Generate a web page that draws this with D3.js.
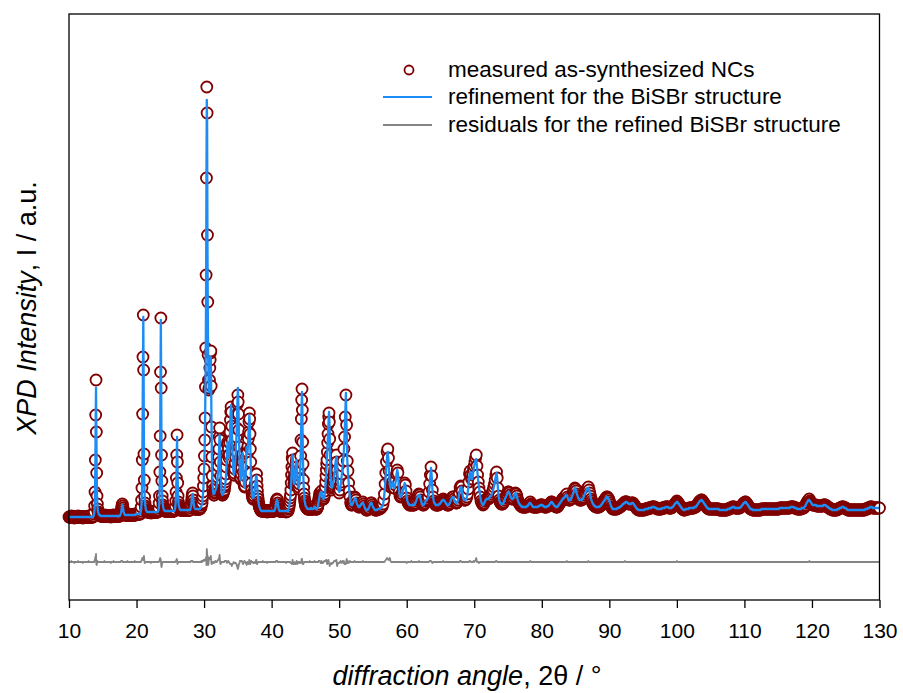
<!DOCTYPE html>
<html>
<head>
<meta charset="utf-8">
<script src="https://cdn.jsdelivr.net/npm/d3@7"></script>
<style>
  body { margin: 0; background: #fff; }
  text { font-family: "Liberation Sans", Arial, sans-serif; fill: #000; }
</style>
</head>
<body>
<svg id="chart" width="903" height="693"></svg>
<script>
// Low-angle part of the scan: 10.00°–49.95°, step 0.05° (one row per 2.5°)
const fineStart = 10;
const fineStep = 0.05;

const measuredFine = [
  83,83,83,83,83,83,83,84,83,83, 83,83,83,83,83,83,82,83,83,83, 83,83,83,83,83,83,83,84,83,83, 83,83,83,83,83,83,83,83,83,83, 83,82,83,83,83,83,83,83,83,83,
  83,83,83,83,83,83,83,83,84,83, 83,83,83,83,83,83,83,83,83,83, 83,83,84,84,86,88,94,108,140,185, 220,168,127,104,96,91,88,87,86,85, 85,85,85,84,84,84,84,84,84,84,
  84,84,84,84,84,85,84,84,84,84, 84,84,84,84,84,84,84,84,84,84, 84,84,84,84,83,84,84,84,84,84, 84,84,85,84,84,84,84,84,84,84, 84,84,84,84,84,84,84,84,84,84,
  84,84,85,86,88,90,92,94,96,94, 92,90,88,87,86,85,85,85,85,85, 85,85,85,86,85,85,85,85,85,85, 85,85,85,85,85,85,85,85,85,85, 85,85,85,85,85,86,85,85,86,86,
  86,86,86,86,86,86,86,86,86,86, 86,86,87,89,93,100,112,140,186,243, 285,230,146,120,103,97,94,92,90,89, 89,88,88,88,88,88,88,88,88,88, 88,88,88,87,88,88,88,88,88,88,
  88,88,88,88,88,88,88,88,88,88, 88,88,88,88,89,90,92,97,104,128, 164,228,282,212,145,119,104,99,95,93, 91,90,90,89,89,89,89,89,89,89, 89,89,89,89,89,89,89,89,89,89,
  89,89,89,89,89,89,89,89,89,89, 89,89,89,90,91,94,99,108,122,145, 165,138,117,104,98,95,93,92,91,90, 90,90,90,90,90,90,90,90,90,90, 90,90,90,90,90,90,90,90,90,90,
  90,90,90,90,90,90,90,90,90,90, 92,94,96,99,102,105,107,104,100,97, 95,93,92,91,91,91,91,91,91,91, 91,91,91,91,91,91,91,91,91,92, 92,93,95,96,97,101,104,108,114,122,
  131,144,160,182,213,252,325,422,513,487, 365,298,245,220,210,212,220,232,240,247, 249,214,173,143,124,114,110,107,106,105, 105,107,108,110,111,111,112,114,116,120, 123,128,134,143,151,163,172,160,138,124,
  115,110,108,106,105,105,106,107,108,109, 110,113,115,118,121,126,133,140,147,155, 158,156,151,145,142,145,157,168,180,188, 193,188,174,160,148,138,131,127,125,125, 127,131,137,143,149,155,163,172,186,196,
  205,198,186,170,153,140,131,125,121,122, 126,132,139,144,146,138,128,121,116,114, 113,114,118,124,134,143,150,148,146,148, 154,161,168,178,187,181,166,151,138,127, 117,110,106,104,102,101,101,102,104,107,
  110,113,116,121,126,126,120,114,109,104, 101,98,96,94,93,92,91,90,90,89, 89,89,89,89,90,89,89,89,89,89, 89,89,89,89,89,89,89,88,89,89, 89,89,89,89,89,89,89,89,89,89,
  89,89,89,89,89,89,89,89,89,90, 91,92,94,97,99,100,101,100,97,95, 93,91,90,89,89,89,89,89,89,89, 89,89,89,89,89,89,89,89,89,89, 89,89,89,88,89,89,89,89,89,89,
  91,92,94,96,99,102,105,110,117,125, 133,142,147,140,130,122,116,115,117,119, 122,127,133,138,141,133,123,118,115,113, 111,113,116,120,124,132,144,160,181,200, 211,190,158,136,120,112,106,102,99,97,
  95,94,93,93,92,92,91,91,91,91, 91,91,91,92,91,91,92,92,91,91, 91,91,91,91,92,92,93,94,92,92, 91,91,91,91,91,92,93,94,96,99, 101,103,105,107,107,105,104,106,109,106,
  104,102,101,101,101,102,104,106,109,113, 118,124,130,136,140,148,157,166,176,183, 187,178,161,145,130,120,115,111,110,112, 113,114,116,119,121,125,128,131,135,138, 141,144,145,138,130,123,117,112,109,108
];

const refinedFine = [
  83,83,83,83,83,83,83,83,83,83, 83,83,83,83,83,83,83,83,83,83, 83,83,83,83,83,83,83,83,83,83, 83,83,83,83,83,83,83,83,83,83, 83,83,83,83,83,83,83,83,83,83,
  83,83,83,83,83,83,83,83,83,83, 83,83,83,83,83,83,83,83,83,83, 83,83,84,84,86,88,92,105,135,180, 212,170,130,105,95,91,88,87,86,85, 85,85,85,84,84,84,84,84,84,84,
  84,84,84,84,84,84,84,84,84,84, 84,84,84,84,84,84,84,84,84,84, 84,84,84,84,84,84,84,84,84,84, 84,84,84,84,84,84,84,84,84,84, 84,84,84,84,84,84,84,84,84,84,
  84,84,85,86,87,89,91,93,95,94, 92,90,88,87,86,85,85,85,85,85, 85,85,85,85,85,85,85,85,85,85, 85,85,85,85,85,85,85,85,85,85, 85,85,85,85,85,85,85,85,86,86,
  86,86,86,86,86,86,86,86,86,86, 86,86,87,89,92,98,110,136,182,240, 283,226,140,118,104,98,94,92,90,89, 89,88,88,88,88,88,88,88,88,88, 88,88,88,88,88,88,88,88,88,88,
  88,88,88,88,88,88,88,88,88,88, 88,88,88,88,89,90,92,96,103,125, 160,225,280,215,150,122,105,99,95,93, 91,90,90,89,89,89,89,89,89,89, 89,89,89,89,89,89,89,89,89,89,
  89,89,89,89,89,89,89,89,89,89, 89,89,89,90,91,94,98,107,120,142, 163,140,118,105,98,95,93,92,91,90, 90,90,90,90,90,90,90,90,90,90, 90,90,90,90,90,90,90,90,90,90,
  90,90,90,90,90,90,90,90,90,90, 92,93,95,98,101,104,106,104,100,97, 95,93,92,91,91,91,91,91,91,91, 91,91,91,91,91,91,91,91,91,92, 92,93,94,95,97,100,103,107,112,120,
  130,142,158,180,210,250,320,425,500,478, 360,292,248,222,208,208,216,228,237,243, 243,212,175,145,125,115,110,107,106,106, 106,107,108,109,110,111,112,114,116,119, 122,126,132,140,148,158,165,158,140,126,
  116,111,108,106,105,105,106,107,108,109, 110,112,114,117,120,125,132,140,148,155, 158,155,150,145,142,146,158,170,182,190, 195,190,178,163,150,140,132,128,125,126, 128,132,138,144,150,157,165,176,190,202,
  212,204,190,172,155,141,130,124,120,121, 125,131,138,144,147,140,130,122,116,113, 112,114,118,125,135,145,153,150,146,149, 155,162,170,178,185,180,168,153,138,126, 116,110,106,104,102,102,102,103,105,107,
  110,113,117,121,124,124,122,116,110,105, 101,98,96,94,93,92,91,90,90,89, 89,89,89,89,89,89,89,89,89,89, 89,89,89,89,89,89,89,89,89,89, 89,89,89,89,89,89,89,89,89,89,
  89,89,89,89,89,89,89,89,89,90, 91,92,94,96,98,99,100,99,97,95, 93,91,90,89,89,89,89,89,89,89, 89,89,89,89,89,89,89,89,89,89, 89,89,89,89,89,89,89,89,89,89,
  91,92,94,96,99,102,106,111,118,126, 135,142,145,140,132,124,118,116,117,120, 124,129,135,139,140,134,125,119,115,113, 112,113,116,120,125,133,145,160,180,197, 208,190,160,138,122,113,106,102,99,97,
  95,94,93,93,92,92,91,91,91,91, 91,91,91,91,91,91,92,92,91,91, 91,91,91,91,92,92,93,93,92,92, 91,91,91,91,91,92,93,94,96,98, 100,102,104,106,107,106,105,106,108,107,
  105,103,102,101,101,102,103,105,108,112, 117,122,128,135,142,150,158,166,174,182, 188,180,165,148,132,122,116,113,112,113, 114,115,117,119,121,124,127,130,134,137, 140,142,143,140,134,126,118,113,110,109
];

// High-angle part of the scan: 50.0°–130.0°, step 0.1° (one row per 5°)
const coarseStart = 50;
const coarseStep = 0.1;

const measuredCoarse = [
  107,110,115,118,126,134,139,151,163,183, 205,175,139,129,117,109,103,97,95,95, 96,98,100,103,102,100,97,95,94,93, 93,94,95,96,97,98,96,94,92,91, 90,90,90,91,92,94,96,97,97,95,
  93,92,91,90,90,90,90,91,91,91, 91,92,92,93,94,96,100,106,116,127, 138,148,151,142,129,120,113,113,115,118, 115,112,112,115,120,126,130,127,117,108, 104,103,104,106,108,111,114,117,115,109,
  102,99,97,96,95,95,95,96,95,95, 95,95,96,97,99,101,103,104,106,105, 103,100,97,96,95,95,96,97,99,100, 101,101,103,108,116,125,133,124,110,103, 99,97,96,95,95,95,95,95,96,96,
  97,98,99,100,101,100,99,98,97,96, 95,95,95,96,97,99,101,102,103,103, 101,99,98,97,97,98,100,103,107,112, 114,113,109,104,101,100,100,100,101,103, 106,111,118,126,129,125,121,121,125,131,
  134,138,142,145,134,125,118,112,108,103, 99,97,96,95,96,97,99,100,101,101, 101,101,102,103,104,104,106,108,110,113, 116,120,125,128,122,112,104,100,98,97, 96,96,96,97,98,100,102,103,105,106,
  108,108,107,105,103,102,101,101,102,104, 106,107,106,104,101,99,97,96,95,94, 94,93,93,93,93,93,93,93,94,94, 95,96,97,98,96,95,94,93,93,93, 93,93,93,93,93,94,94,94,95,95,
  95,95,94,94,93,93,93,93,94,94, 94,95,96,97,98,98,97,96,95,94, 94,93,93,93,94,95,96,97,98,99, 100,101,102,102,103,104,105,106,103,101, 100,100,100,101,102,104,106,108,110,112,
  111,109,106,104,102,101,100,100,100,100, 101,102,103,105,107,108,110,111,112,113, 110,107,104,101,99,97,96,95,94,94, 93,93,93,93,93,93,94,94,95,96, 97,98,99,100,101,102,103,103,102,101,
  99,97,95,93,92,91,91,91,91,91, 91,91,92,92,92,93,93,94,94,95, 96,96,97,98,98,98,98,97,97,96, 96,96,96,97,97,97,96,95,94,93, 92,91,91,90,90,90,90,90,90,90,
  90,90,90,91,91,91,91,91,92,92, 92,92,92,93,93,93,93,93,92,92, 92,91,91,91,91,91,91,91,92,92, 92,92,92,93,93,93,93,93,92,92, 92,92,92,93,93,94,95,96,97,97,
  99,98,97,96,95,94,93,92,91,91, 90,90,90,91,91,91,91,91,92,92, 92,92,92,92,92,92,93,93,93,94, 95,96,97,98,99,99,100,100,99,98, 97,96,95,94,93,92,92,91,91,91,
  91,91,91,91,91,91,91,91,91,91, 91,91,91,90,90,90,90,90,90,90, 90,90,90,90,90,91,91,91,91,92, 92,92,93,93,93,93,92,92,92,92, 92,92,92,92,93,93,94,95,96,97,
  97,98,98,97,96,95,94,93,92,91, 91,91,90,90,90,90,90,90,90,90, 90,90,90,90,90,91,91,91,91,91, 91,91,91,91,91,91,91,91,91,91, 91,91,91,91,91,91,91,91,91,91,
  91,91,92,92,92,92,92,92,92,92, 92,92,92,92,92,92,92,92,93,93, 93,93,93,93,92,92,92,92,91,91, 91,91,91,91,91,92,92,92,92,93, 94,95,97,98,99,100,101,99,98,97,
  96,95,95,95,95,95,95,94,94,94, 94,94,94,94,94,94,94,95,95,95, 95,94,94,93,93,92,92,91,91,91, 90,90,90,90,90,90,90,90,91,91, 91,92,92,92,93,93,93,93,92,92,
  92,91,91,90,90,90,90,90,90,90, 90,90,90,90,90,90,90,90,90,90, 90,90,90,90,90,90,90,90,90,91, 91,91,91,92,92,92,93,93,93,93, 92,92,92,92,92,92,92,92,92,92,
  92
];

const refinedCoarse = [
  108,110,114,119,126,133,140,150,165,185, 207,172,140,128,118,109,102,97,95,95, 96,98,100,102,102,100,97,95,94,93, 93,94,95,96,97,97,96,94,92,91, 90,90,90,91,92,94,96,97,97,95,
  93,92,91,90,90,90,90,91,91,91, 91,92,92,93,94,96,100,106,115,125, 135,144,148,140,126,116,112,113,115,118, 115,112,112,115,120,126,130,127,117,108, 104,103,104,106,108,111,114,117,115,109,
  103,99,97,96,95,95,95,95,95,95, 95,95,96,97,99,101,103,104,105,105, 103,100,97,96,95,95,96,97,99,100, 101,101,103,108,115,124,132,124,111,103, 99,97,96,95,95,95,95,95,96,96,
  97,98,99,100,100,100,99,98,97,96, 95,95,95,96,97,99,101,102,103,103, 101,99,98,97,97,98,100,103,107,111, 113,113,109,104,101,100,100,100,101,103, 106,111,118,125,128,125,121,121,125,130,
  134,137,140,141,134,125,118,113,108,103, 99,97,96,95,96,97,99,100,101,101, 101,101,102,103,104,104,106,108,110,113, 116,120,124,127,122,112,104,100,98,97, 96,96,96,97,98,100,102,103,105,106,
  108,108,107,105,103,102,101,101,102,104, 106,107,106,104,101,99,97,96,95,94, 94,93,93,93,93,93,93,93,94,94, 95,96,97,97,96,95,94,93,93,93, 93,93,93,93,93,94,94,94,95,95,
  95,95,94,94,93,93,93,93,94,94, 94,95,96,97,98,98,97,96,95,94, 94,93,93,93,94,95,96,97,98,99, 100,101,102,102,103,104,105,105,103,101, 100,100,100,101,102,104,106,108,110,112,
  111,109,106,104,102,101,100,100,100,100, 101,102,103,105,107,108,110,111,112,112, 110,107,104,101,99,97,96,95,94,94, 93,93,93,93,93,93,94,94,95,96, 97,98,99,100,101,102,103,103,102,101,
  99,97,95,93,92,91,91,91,91,91, 91,91,92,92,92,93,93,94,94,95, 96,96,97,97,98,98,98,97,97,96, 96,96,96,97,97,97,96,95,94,93, 92,91,91,90,90,90,90,90,90,90,
  90,90,90,91,91,91,91,91,92,92, 92,92,92,93,93,93,93,93,92,92, 92,91,91,91,91,91,91,91,92,92, 92,92,92,93,93,93,93,93,92,92, 92,92,92,93,93,94,95,96,97,97,
  98,98,97,96,95,94,93,92,91,91, 90,90,90,91,91,91,91,91,92,92, 92,92,92,92,92,92,93,93,93,94, 95,96,97,98,99,99,100,100,99,98, 97,96,95,94,93,92,92,91,91,91,
  91,91,91,91,91,91,91,91,91,91, 91,91,91,90,90,90,90,90,90,90, 90,90,90,90,90,91,91,91,91,92, 92,92,93,93,93,93,92,92,92,92, 92,92,92,92,93,93,94,95,96,97,
  97,98,98,97,96,95,94,93,92,91, 91,91,90,90,90,90,90,90,90,90, 90,90,90,90,90,91,91,91,91,91, 91,91,91,91,91,91,91,91,91,91, 91,91,91,91,91,91,91,91,91,91,
  91,91,92,92,92,92,92,92,92,92, 92,92,92,92,92,92,92,92,93,93, 93,93,93,93,92,92,92,92,91,91, 91,91,91,91,91,92,92,92,92,93, 94,95,97,98,99,100,100,99,98,97,
  96,95,95,95,95,95,95,94,94,94, 94,94,94,94,94,94,94,95,95,95, 95,94,94,93,93,92,92,91,91,91, 90,90,90,90,90,90,90,90,91,91, 91,92,92,92,93,93,93,93,92,92,
  92,91,91,90,90,90,90,90,90,90, 90,90,90,90,90,90,90,90,90,90, 90,90,90,90,90,90,90,90,90,91, 91,91,91,92,92,92,93,93,93,93, 92,92,92,92,92,92,92,92,92,92,
  92
];

// Axis ticks and texts
const xTicks = [10, 20, 30, 40, 50, 60, 70, 80, 90, 100, 110, 120, 130];
const legendLabels = [
  "measured as-synthesized NCs",
  "refinement for the BiSBr structure",
  "residuals for the refined BiSBr structure"
];
const intensityRange = [0, 586];   // a.u. shown on the vertical axis
const residualBase = 38;           // a.u. level the difference curve is drawn around

const colors = { measured: "#800000", refined: "#1b8df5", residual: "#858585" };
const fontFamily = '"Liberation Sans", Arial, sans-serif';

const svg = d3.select("#chart");
const plot = { left: 69, right: 879.5, top: 14, bottom: 600 };

const x = d3.scaleLinear().domain([10, 130]).range([plot.left, plot.right]);
const y = d3.scaleLinear().domain(intensityRange).range([plot.bottom, plot.top]);

const toPoints = (obs, calc, start, step) => obs.map((v, i) => ({
  angle: start + i * step,
  obs: v,
  calc: calc[i],
  diff: v - calc[i]
}));
const points = [
  ...toPoints(measuredFine, refinedFine, fineStart, fineStep),
  ...toPoints(measuredCoarse, refinedCoarse, coarseStart, coarseStep)
];

// measured points: open markers
svg.append("g")
  .selectAll("circle")
  .data(points)
  .join("circle")
  .attr("cx", d => x(d.angle))
  .attr("cy", d => y(d.obs))
  .attr("r", 5.5)
  .attr("fill", "#fff")
  .attr("stroke", colors.measured)
  .attr("stroke-width", 1.8);

// refined model
svg.append("path")
  .datum(points)
  .attr("fill", "none")
  .attr("stroke", colors.refined)
  .attr("stroke-width", 2.3)
  .attr("stroke-linejoin", "round")
  .attr("d", d3.line().x(d => x(d.angle)).y(d => y(d.calc)));

// difference curve
svg.append("path")
  .datum(points)
  .attr("fill", "none")
  .attr("stroke", colors.residual)
  .attr("stroke-width", 1.8)
  .attr("stroke-linejoin", "round")
  .attr("d", d3.line().x(d => x(d.angle)).y(d => y(residualBase + d.diff)));

// frame
svg.append("rect")
  .attr("x", plot.left).attr("y", plot.top)
  .attr("width", plot.right - plot.left).attr("height", plot.bottom - plot.top)
  .attr("fill", "none").attr("stroke", "#000").attr("stroke-width", 1.3);

// bottom axis
const xAxis = svg.append("g")
  .attr("transform", `translate(0,${plot.bottom})`)
  .call(d3.axisBottom(x).tickValues(xTicks).tickSize(8).tickSizeOuter(0).tickPadding(15));
xAxis.select(".domain").remove();
xAxis.selectAll(".tick line").attr("stroke", "#000").attr("stroke-width", 1.3);
xAxis.selectAll(".tick text")
  .style("font-family", fontFamily)
  .style("font-size", "21px")
  .attr("fill", "#000");

// axis titles
const xTitle = svg.append("text")
  .attr("x", 467).attr("y", 685)
  .attr("text-anchor", "middle")
  .style("font-size", "27px");
xTitle.append("tspan").style("font-style", "italic").text("diffraction angle");
xTitle.append("tspan").text(", 2θ / °");

const yTitle = svg.append("text")
  .attr("transform", "translate(36,308) rotate(-90)")
  .attr("text-anchor", "middle")
  .style("font-size", "27px");
yTitle.append("tspan").style("font-style", "italic").text("XPD Intensity");
yTitle.append("tspan").text(", I / a.u.");

// legend
const legend = svg.append("g");
const rowY = [70, 97, 125];
legend.append("circle")
  .attr("cx", 409).attr("cy", rowY[0]).attr("r", 4.5)
  .attr("fill", "#fff").attr("stroke", colors.measured).attr("stroke-width", 1.8);
legend.append("line")
  .attr("x1", 383).attr("x2", 432).attr("y1", rowY[1]).attr("y2", rowY[1])
  .attr("stroke", colors.refined).attr("stroke-width", 2);
legend.append("line")
  .attr("x1", 383).attr("x2", 432).attr("y1", rowY[2]).attr("y2", rowY[2])
  .attr("stroke", colors.residual).attr("stroke-width", 2);
legend.selectAll("text.label")
  .data(legendLabels)
  .join("text")
  .attr("class", "label")
  .attr("x", 448)
  .attr("y", (d, i) => rowY[i] + 7)
  .style("font-size", "22.5px")
  .text(d => d);
</script>
</body>
</html>
